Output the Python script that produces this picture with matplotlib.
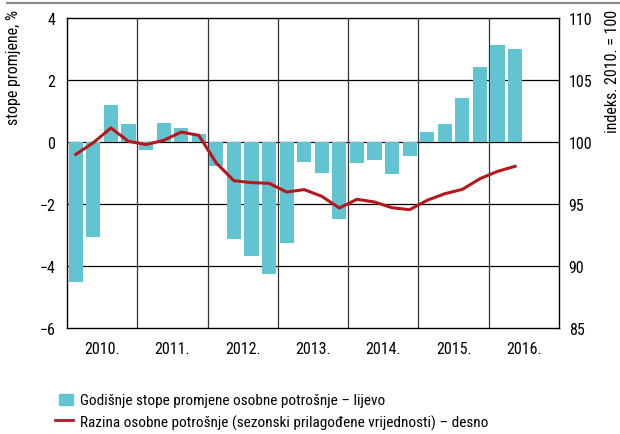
import matplotlib
matplotlib.use("Agg")
import matplotlib.pyplot as plt
from matplotlib.patches import Rectangle
from matplotlib.lines import Line2D
from matplotlib import font_manager

names = {f.name for f in font_manager.fontManager.ttflist}
cands = ['Liberation Sans Narrow', 'Arial Narrow', 'Roboto Condensed', 'Archivo Narrow',
         'PT Sans Narrow', 'Liberation Sans', 'DejaVu Sans']
fam = [f for f in cands if f in names]
if 'DejaVu Sans' not in fam:
    fam.append('DejaVu Sans')
plt.rcParams['font.family'] = fam
plt.rcParams['axes.unicode_minus'] = True

years = ['2010.', '2011.', '2012.', '2013.', '2014.', '2015.', '2016.']
growth = [-4.5, -3.08, 1.2, 0.59,
          -0.27, 0.62, 0.46, 0.27,
          -0.78, -3.14, -3.69, -4.25,
          -3.27, -0.66, -1.01, -2.49,
          -0.69, -0.59, -1.04, -0.46,
          0.33, 0.59, 1.43, 2.43,
          3.14, 3.01]
level = [99.0, 99.95, 101.13, 100.05,
         99.8, 100.13, 100.8, 100.54,
         98.3, 96.88, 96.72, 96.67,
         95.97, 96.16, 95.62, 94.68,
         95.38, 95.16, 94.7, 94.54,
         95.3, 95.83, 96.18, 97.04,
         97.63, 98.04]
left_ticks = [-6, -4, -2, 0, 2, 4]
right_ticks = [85, 90, 95, 100, 105, 110]

bar_color = '#62c3d1'
line_color = '#b5171c'
fs = 11.5
lfs = 11

fig = plt.figure(figsize=(6.2, 4.35), dpi=100)
ax = fig.add_axes([67/620, 1-329/435, (559-67)/620, (329-19)/435])
x = list(range(len(growth)))
ax.bar(x, growth, width=0.8, color=bar_color, zorder=2)
ax.set_xlim(-0.5, 4*len(years)-0.5)
ax.set_ylim(-6, 4)
ax.set_yticks(left_ticks)
ax.set_yticklabels([f'{t}'.replace('-', '\u2212') for t in left_ticks], fontsize=fs)
ax.tick_params(axis='y', length=0, pad=8.5)
for yv in left_ticks[1:-1]:
    ax.axhline(yv, color='black', lw=0.9, zorder=1)
for i in range(1, len(years)):
    ax.axvline(4*i-0.5, color='#333333', lw=0.9, zorder=1)
ax.set_xticks([4*i+1.5 for i in range(len(years))])
ax.set_xticklabels(years, fontsize=fs)
ax.tick_params(axis='x', length=0, pad=9)
for s in ax.spines.values():
    s.set_color('black'); s.set_linewidth(1.0)
ax.set_ylabel('stope promjene, %', fontsize=fs)
ax.yaxis.set_label_coords(-0.094, 0.845)

ax2 = ax.twinx()
ax2.plot(x, level, color=line_color, lw=2.2, zorder=3)
ax2.set_ylim(85, 110)
ax2.set_yticks(right_ticks)
ax2.set_yticklabels([str(t) for t in right_ticks], fontsize=fs)
ax2.tick_params(axis='y', length=0, pad=7)
ax2.set_ylabel('indeks. 2010. = 100', fontsize=fs)
ax2.yaxis.set_label_coords(1.093, 0.832)
for s in ax2.spines.values():
    s.set_visible(False)

# top rule
fig.add_artist(Line2D([7/620, 1], [1-4/435, 1-4/435], color='#888888', lw=1.5, transform=fig.transFigure))

# legend
fig.add_artist(Rectangle((59/620, 1-406/435), 14/620, 11/435, color=bar_color, transform=fig.transFigure))
fig.text(80/620, 1-401/435, 'Godišnje stope promjene osobne potrošnje – lijevo', fontsize=lfs, va='center')
fig.add_artist(Line2D([55/620, 73/620], [1-421/435, 1-421/435], color=line_color, lw=2, transform=fig.transFigure))
fig.text(80/620, 1-423/435, 'Razina osobne potrošnje (sezonski prilagođene vrijednosti) – desno', fontsize=lfs, va='center')

fig.savefig('out.png', dpi=100)
